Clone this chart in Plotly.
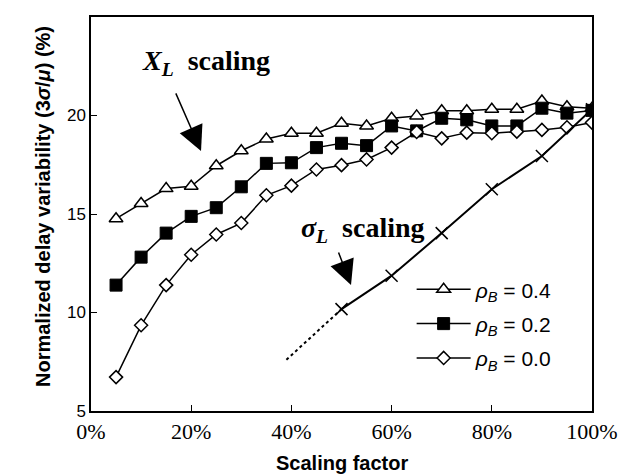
import plotly.graph_objects as go

scale_pct = [5, 10, 15, 20, 25, 30, 35, 40, 45, 50, 55, 60, 65, 70, 75, 80, 85, 90, 95, 100]
rho_04 = [14.76, 15.53, 16.29, 16.41, 17.45, 18.21, 18.81, 19.10, 19.10, 19.61, 19.47, 19.86, 19.98, 20.24, 20.24, 20.32, 20.32, 20.74, 20.44, 20.37]
rho_02 = [11.39, 12.81, 14.03, 14.88, 15.32, 16.38, 17.57, 17.60, 18.37, 18.59, 18.47, 19.47, 19.22, 19.86, 19.78, 19.47, 19.47, 20.37, 20.12, 20.26]
rho_00 = [6.72, 9.35, 11.39, 12.93, 13.96, 14.54, 15.95, 16.44, 17.26, 17.48, 17.77, 18.37, 19.16, 18.84, 19.13, 19.10, 19.18, 19.27, 19.40, 19.64]

sigmaL_pct = [50, 60, 70, 80, 90, 100]
sigmaL_val = [10.17, 11.87, 14.03, 16.26, 17.94, 20.32]
sigmaL_ext_pct = [39, 50]
sigmaL_ext_val = [7.6, 10.17]

x_tickvals = [0, 20, 40, 60, 80, 100]
x_ticktext = ["0%", "20%", "40%", "60%", "80%", "100%"]
y_tickvals = [5, 10, 15, 20, 25]

legend_names = ["<i>ρ</i><sub><i>B</i></sub> = 0.4", "<i>ρ</i><sub><i>B</i></sub> = 0.2", "<i>ρ</i><sub><i>B</i></sub> = 0.0"]

fig = go.Figure()
line = dict(color="black", width=1.5)
fig.add_trace(go.Scatter(x=scale_pct, y=rho_04, mode="lines+markers", name=legend_names[0],
                         legendgroup="a", line=line,
                         marker=dict(symbol="triangle-up", size=12, color="white",
                                     line=dict(color="black", width=1.5))))
fig.add_trace(go.Scatter(x=scale_pct, y=rho_02, mode="lines+markers", name=legend_names[1],
                         legendgroup="b", line=line,
                         marker=dict(symbol="square", size=12, color="black",
                                     line=dict(color="black", width=1))))
fig.add_trace(go.Scatter(x=scale_pct, y=rho_00, mode="lines+markers", name=legend_names[2],
                         legendgroup="c", line=line,
                         marker=dict(symbol="diamond", size=10, color="white",
                                     line=dict(color="black", width=1.5))))
fig.add_trace(go.Scatter(x=sigmaL_ext_pct, y=sigmaL_ext_val, mode="lines", showlegend=False,
                         line=dict(color="black", width=2, dash="dot")))
fig.add_trace(go.Scatter(x=sigmaL_pct, y=sigmaL_val, mode="lines+markers", showlegend=False,
                         line=dict(color="black", width=2),
                         marker=dict(symbol="x-thin-open", size=12, color="black",
                                     line=dict(color="black", width=1.5))))

serif = "Liberation Serif, Times New Roman, serif"
sans = "Liberation Sans, Arial, sans-serif"

annotations = [
    dict(x=23.0, y=22.7, xref="x", yref="y", showarrow=False, xanchor="center", yanchor="middle",
         text="<b><i>X<sub>L</sub></i>&nbsp;&nbsp;scaling</b>",
         font=dict(family=serif, size=28, color="black")),
    dict(x=21.96, y=18.2, xref="x", yref="y", ax=16.8, ay=21.2, axref="x", ayref="y",
         text="", showarrow=True, arrowhead=2, arrowsize=3.3, arrowwidth=1.5,
         arrowcolor="black", standoff=0),
    dict(x=54.3, y=14.2, xref="x", yref="y", showarrow=False, xanchor="center", yanchor="middle",
         text="<b><i>σ<sub>L</sub></i>&nbsp;&nbsp;scaling</b>",
         font=dict(family=serif, size=28, color="black")),
    dict(x=51.9, y=11.4, xref="x", yref="y", ax=49.3, ay=13.12, axref="x", ayref="y",
         text="", showarrow=True, arrowhead=2, arrowsize=3.3, arrowwidth=1.5,
         arrowcolor="black", standoff=0),
    dict(x=-0.096, y=0.52, xref="paper", yref="paper", showarrow=False, textangle=-90,
         xanchor="center", yanchor="middle",
         text="<b>Normalized delay variability (3<i>σ</i>/<i>μ</i>) (%)</b>",
         font=dict(family=sans, size=20, color="black")),
    dict(x=0.5, y=-0.132, xref="paper", yref="paper", showarrow=False,
         xanchor="center", yanchor="middle",
         text="<b>Scaling factor</b>",
         font=dict(family=sans, size=20, color="black")),
]

fig.update_layout(
    width=633, height=475,
    margin=dict(l=83, r=49, t=9, b=72, autoexpand=False),
    plot_bgcolor="white", paper_bgcolor="white",
    showlegend=True,
    legend=dict(x=0.64, y=0.36, xanchor="left", yanchor="top", traceorder="grouped",
                tracegroupgap=4, itemwidth=54, bgcolor="rgba(0,0,0,0)",
                font=dict(family=sans, size=21, color="black")),
    annotations=annotations,
)
fig.update_xaxes(range=[0, 100], tickmode="array", tickvals=x_tickvals, ticktext=x_ticktext,
                 automargin=False,
                 showgrid=False, zeroline=False, showline=True, linecolor="black", linewidth=1.5,
                 mirror=True, ticks="inside", ticklen=6, tickcolor="black",
                 tickfont=dict(family=serif, size=22, color="black"))
fig.update_yaxes(range=[5, 25], tickmode="array", tickvals=y_tickvals, automargin=False,
                 showgrid=False, zeroline=False, showline=True, linecolor="black", linewidth=1.5,
                 mirror=True, ticks="inside", ticklen=6, tickcolor="black",
                 tickfont=dict(family=sans, size=17, color="black"))

fig.write_html("out.html")
